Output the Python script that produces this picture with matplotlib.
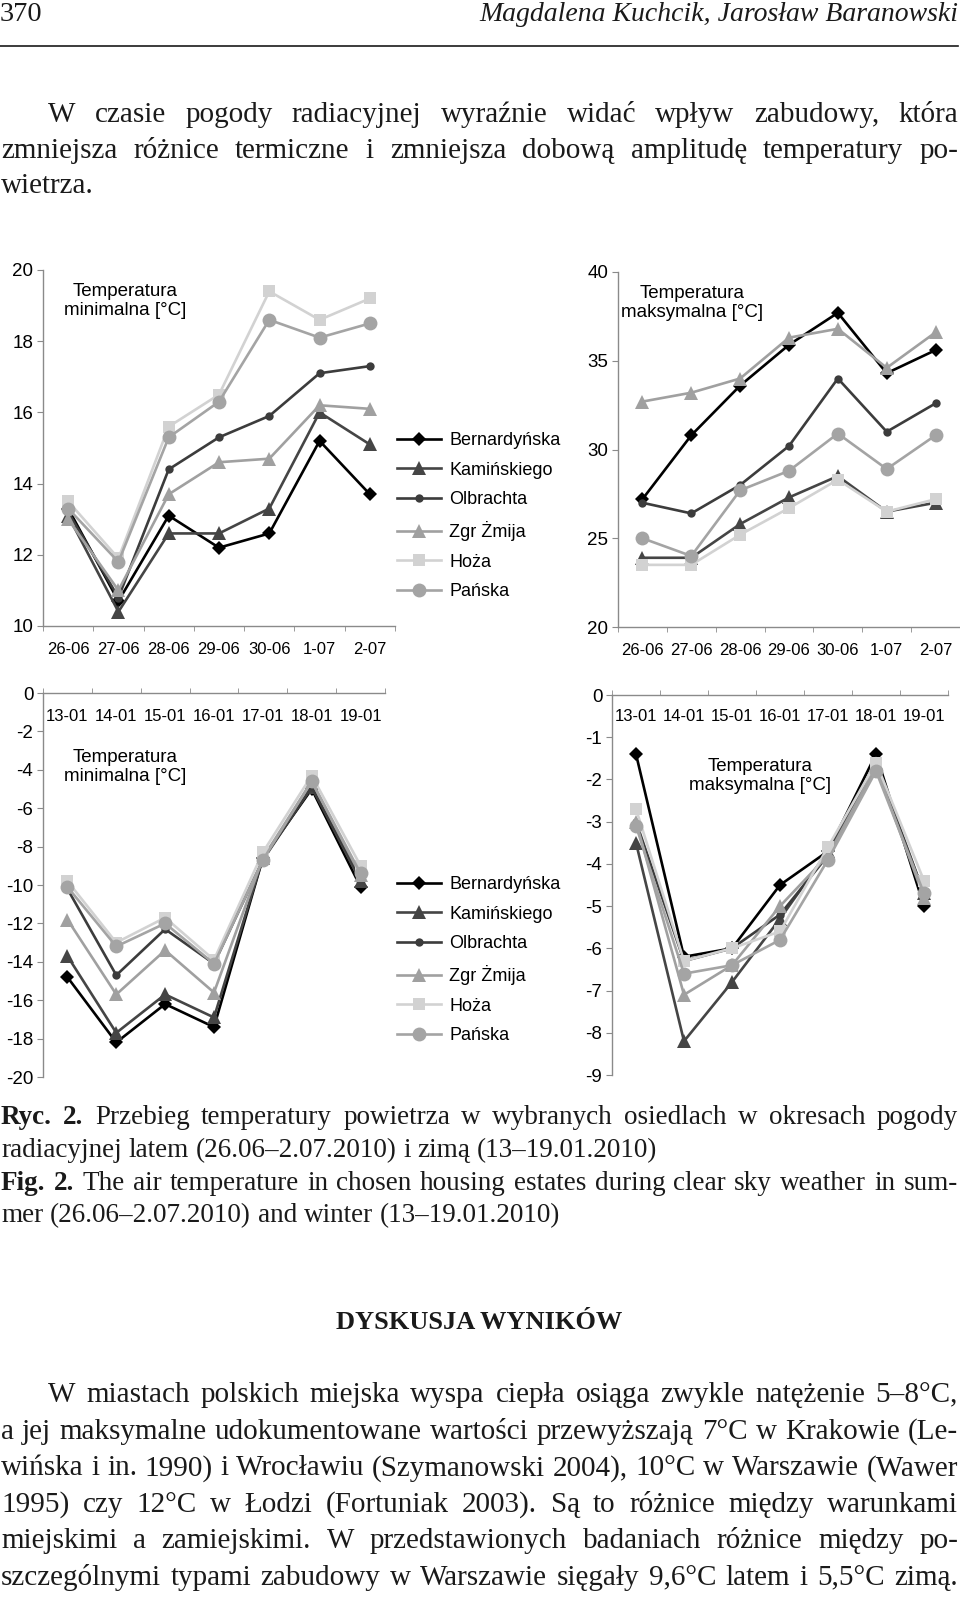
import matplotlib
matplotlib.use('Agg')
import matplotlib.pyplot as plt

W, H = 960, 1598
SANS = 'Liberation Sans'
SERIF = 'Liberation Serif'

stations = ['Bernardyńska', 'Kamińskiego', 'Olbrachta', 'Zgr Żmija', 'Hoża', 'Pańska']
summer_days = ['26-06', '27-06', '28-06', '29-06', '30-06', '1-07', '2-07']
winter_days = ['13-01', '14-01', '15-01', '16-01', '17-01', '18-01', '19-01']

# rows follow the order of stations
summer_min = [
    [13.3, 10.7, 13.1, 12.2, 12.6, 15.2, 13.7],
    [13.1, 10.4, 12.6, 12.6, 13.3, 16.0, 15.1],
    [13.2, 10.8, 14.4, 15.3, 15.9, 17.1, 17.3],
    [13.0, 11.0, 13.7, 14.6, 14.7, 16.2, 16.1],
    [13.5, 11.9, 15.6, 16.5, 19.4, 18.6, 19.2],
    [13.3, 11.8, 15.3, 16.3, 18.6, 18.1, 18.5],
]
summer_max = [
    [27.2, 30.8, 33.6, 35.9, 37.7, 34.3, 35.6],
    [23.9, 23.9, 25.8, 27.3, 28.5, 26.5, 27.0],
    [27.0, 26.4, 28.0, 30.2, 34.0, 31.0, 32.6],
    [32.7, 33.2, 34.0, 36.3, 36.8, 34.6, 36.6],
    [23.5, 23.5, 25.2, 26.7, 28.3, 26.5, 27.2],
    [25.0, 24.0, 27.7, 28.8, 30.9, 28.9, 30.8],
]
winter_min = [
    [-14.8, -18.2, -16.2, -17.4, -8.6, -5.0, -10.1],
    [-13.7, -17.7, -15.7, -16.9, -8.6, -4.9, -9.8],
    [-10.2, -14.7, -12.3, -14.1, -8.7, -4.9, -9.6],
    [-11.8, -15.7, -13.4, -15.6, -8.6, -4.6, -9.5],
    [-9.8, -13.0, -11.7, -13.9, -8.3, -4.3, -9.0],
    [-10.1, -13.2, -12.0, -14.1, -8.7, -4.6, -9.4],
]
winter_max = [
    [-1.4, -6.2, -6.0, -4.5, -3.7, -1.4, -5.0],
    [-3.5, -8.2, -6.8, -5.3, -3.7, -1.6, -4.7],
    [-3.0, -6.3, -6.0, -5.2, -3.8, -1.7, -4.7],
    [-3.0, -7.1, -6.4, -5.0, -3.8, -1.7, -4.8],
    [-2.7, -6.3, -6.0, -5.6, -3.6, -1.6, -4.4],
    [-3.1, -6.6, -6.4, -5.8, -3.9, -1.8, -4.7],
]

styles = [
    dict(color='#000000', marker='D', markersize=7.5),
    dict(color='#454545', marker='^', markersize=10),
    dict(color='#3c3c3c', marker='o', markersize=6),
    dict(color='#a0a0a0', marker='^', markersize=10),
    dict(color='#d2d2d2', marker='s', markersize=9),
    dict(color='#a4a4a4', marker='o', markersize=10),
]

fig = plt.figure(figsize=(W / 100, H / 100), dpi=100)
fig.patch.set_facecolor('white')


def box(left, top, right, bottom):
    return [left / W, 1 - bottom / H, (right - left) / W, (bottom - top) / H]


def chart(rect, days, series, ylim, yticks, top_axis, pad):
    ax = fig.add_axes(box(*rect))
    ax.set_facecolor('none')
    x = list(range(len(days)))
    for name, vals, st in zip(stations, series, styles):
        ax.plot(x, vals, label=name, linewidth=1.9, markeredgewidth=0, **st)
    ax.set_xlim(-0.5, len(days) - 0.5)
    ax.set_ylim(*ylim)
    ax.set_yticks(yticks)
    ax.set_yticklabels([str(t) for t in yticks], fontfamily=SANS, fontsize=13.5)
    ax.set_xticks(x)
    ax.set_xticklabels(days, fontfamily=SANS, fontsize=12)
    ax.set_xticks([i - 0.5 for i in range(len(days) + 1)], minor=True)
    for s in ax.spines.values():
        s.set_visible(False)
    ax.spines['left'].set_visible(True)
    side = 'top' if top_axis else 'bottom'
    ax.spines[side].set_visible(True)
    for s in ('left', side):
        ax.spines[s].set_color('#8a8a8a')
        ax.spines[s].set_linewidth(1.0)
    ax.tick_params(axis='y', direction='out', length=4, color='#8a8a8a',
                   pad=3, labelcolor='#000000')
    if top_axis:
        ax.xaxis.set_ticks_position('top')
        ax.tick_params(axis='x', which='major', top=False, bottom=False,
                       labeltop=True, labelbottom=False, length=0, pad=pad)
        ax.tick_params(axis='x', which='minor', top=True, bottom=False,
                       direction='out', length=3.5, color='#8a8a8a')
    else:
        ax.tick_params(axis='x', which='major', length=0, pad=pad)
        ax.tick_params(axis='x', which='minor', direction='out', length=3.5,
                       color='#8a8a8a')
    return ax


ax1 = chart((43, 270, 395, 626), summer_days, summer_min,
            (10, 20), [10, 12, 14, 16, 18, 20], False, 11.5)
ax2 = chart((618, 272, 960, 627), summer_days, summer_max,
            (20, 40), [20, 25, 30, 35, 40], False, 11.5)
ax3 = chart((43, 693, 385, 1077), winter_days, winter_min,
            (-20, 0), list(range(0, -21, -2)), True, -22)
ax4 = chart((612, 695, 948, 1075), winter_days, winter_max,
            (-9, 0), list(range(0, -10, -1)), True, -21)

labels = [
    (125, 301, 'Temperatura\nminimalna [°C]'),
    (692, 303, 'Temperatura\nmaksymalna [°C]'),
    (125, 767, 'Temperatura\nminimalna [°C]'),
    (760, 776, 'Temperatura\nmaksymalna [°C]'),
]
for lx, ly, txt in labels:
    fig.text(lx / W, 1 - ly / H, txt, ha='center', va='center',
             multialignment='center', fontfamily=SANS, fontsize=13.5,
             linespacing=1.2, color='#000000')

handles, names = ax1.get_legend_handles_labels()
for top in (432, 876):
    fig.legend(handles, names, loc='upper left',
               bbox_to_anchor=(397 / W, 1 - top / H), frameon=False,
               borderpad=0, borderaxespad=0, handlelength=2.45,
               handletextpad=0.45, labelspacing=0.7,
               prop=dict(family=SANS, size=13))

# ---- page text ----
renderer = fig.canvas.get_renderer()


def place_line(line, base, left, right, size, justify=True, nbold=0):
    words = line.split(' ')
    items = []
    for i, w in enumerate(words):
        t = fig.text(left / W, 1 - base / H, w, fontsize=size,
                     fontfamily=SERIF, va='baseline', ha='left',
                     weight='bold' if i < nbold else 'normal',
                     color='#1a1a1a')
        items.append(t)
    widths = [t.get_window_extent(renderer).width for t in items]
    space = 0.25 * size * 100 / 72
    if justify and len(items) > 1:
        gap = (right - left - sum(widths)) / (len(items) - 1)
    else:
        gap = space
    x = left
    for t, wdt in zip(items, widths):
        t.set_x(x / W)
        x += wdt + gap


# header
fig.text(0, 1 - 21 / H, '370', fontsize=20.5, fontfamily=SERIF,
         va='baseline', ha='left', color='#1a1a1a')
fig.text(958 / W, 1 - 21 / H, 'Magdalena Kuchcik, Jarosław Baranowski',
         fontsize=20, fontfamily=SERIF, style='italic', va='baseline',
         ha='right', color='#1a1a1a')
fig.add_artist(plt.Line2D([0, 958 / W], [1 - 46 / H, 1 - 46 / H],
                          color='#1a1a1a', linewidth=1.2))

para1 = [
    'W czasie pogody radiacyjnej wyraźnie widać wpływ zabudowy, która',
    'zmniejsza różnice termiczne i zmniejsza dobową amplitudę temperatury po-',
    'wietrza.',
]
for i, (ln, base) in enumerate(zip(para1, [122, 158, 193])):
    place_line(ln, base, 48 if i == 0 else 1, 958, 21, justify=i < 2)

caption = [
    ('Ryc. 2. Przebieg temperatury powietrza w wybranych osiedlach w okresach pogody', 2, True),
    ('radiacyjnej latem (26.06–2.07.2010) i zimą (13–19.01.2010)', 0, False),
    ('Fig. 2. The air temperature in chosen housing estates during clear sky weather in sum-', 2, True),
    ('mer (26.06–2.07.2010) and winter (13–19.01.2010)', 0, False),
]
for (ln, nb, just), base in zip(caption, [1124, 1157, 1190, 1222]):
    place_line(ln, base, 1, 958, 19.5, justify=just, nbold=nb)

fig.text(479 / W, 1 - 1329 / H, 'DYSKUSJA WYNIKÓW', fontsize=19,
         fontfamily=SERIF, weight='bold', ha='center', va='baseline',
         color='#1a1a1a')

body = [
    'W miastach polskich miejska wyspa ciepła osiąga zwykle natężenie 5–8°C,',
    'a jej maksymalne udokumentowane wartości przewyższają 7°C w Krakowie (Le-',
    'wińska i in. 1990) i Wrocławiu (Szymanowski 2004), 10°C w Warszawie (Wawer',
    '1995) czy 12°C w Łodzi (Fortuniak 2003). Są to różnice między warunkami',
    'miejskimi a zamiejskimi. W przedstawionych badaniach różnice między po-',
    'szczególnymi typami zabudowy w Warszawie sięgały 9,6°C latem i 5,5°C zimą.',
]
for i, ln in enumerate(body):
    place_line(ln, 1402 + i * 36.6, 48 if i == 0 else 1, 958, 21)

fig.savefig('out.png', dpi=100, facecolor='white')
